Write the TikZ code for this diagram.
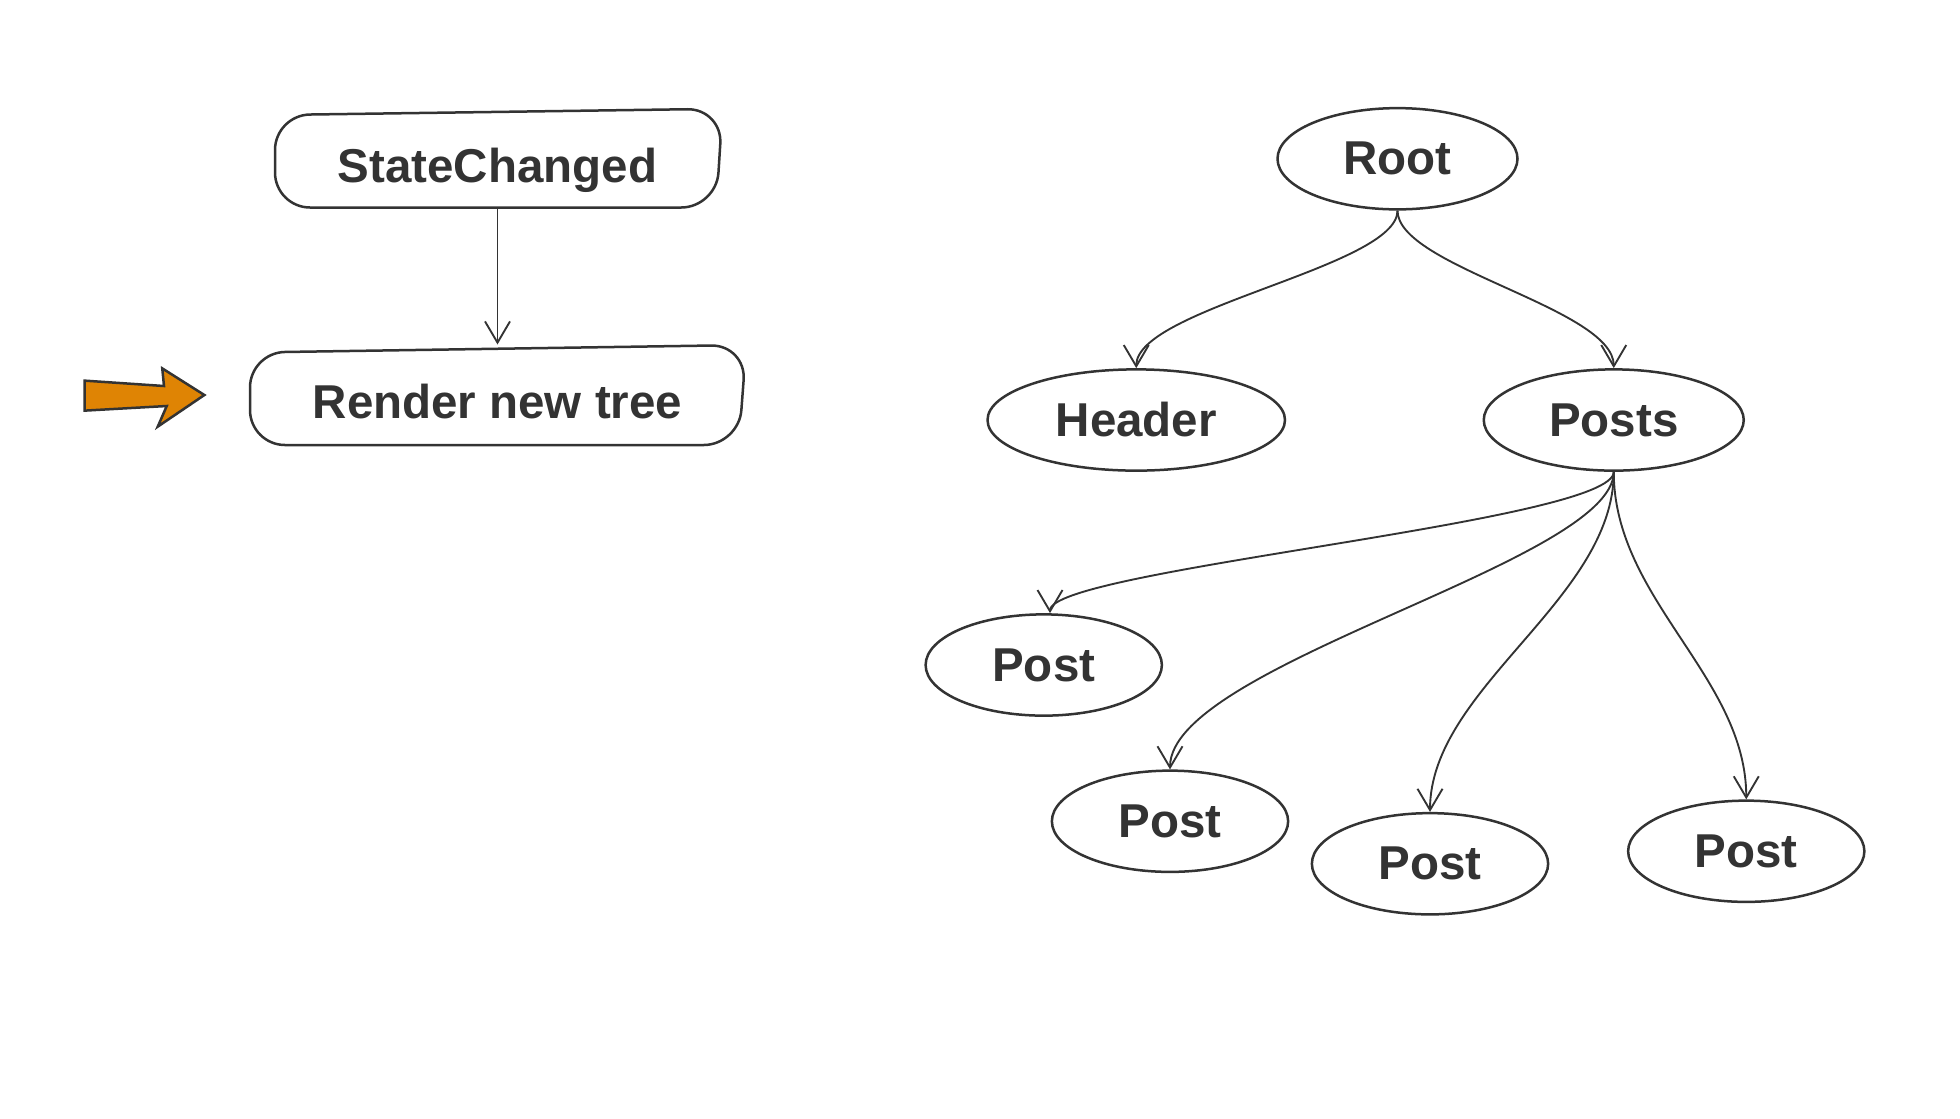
\documentclass[tikz,border=0pt]{standalone}
\usepackage{fontspec}
\setmainfont{Liberation Sans}
\usetikzlibrary{arrows.meta,shapes.geometric}
\definecolor{ink}{HTML}{333333}
\definecolor{orangefill}{HTML}{DF8404}
\begin{document}
\begin{tikzpicture}[x=0.5pt,y=-0.5pt,
  lbl/.style={font=\fontsize{19}{23}\selectfont\bfseries, text=ink},
  oval/.style={ellipse, draw=ink, line width=1pt, lbl, inner sep=0pt, minimum height=40.5pt},
  boxlbl/.style={lbl, inner sep=0pt, text height=19pt, text depth=0pt},
  outline/.style={draw=ink, line width=1pt, rounded corners=14pt},
  conn/.style={draw=ink, line width=0.75pt, -{Straight Barb[length=8.5pt,width=10pt]}}
]
\useasboundingbox (0,0) rectangle (1568,895);

% boxes
\draw[outline] (400,89.5) -- (578,87) -- (573,166) -- (220,166) -- (220,92) -- cycle;
\draw[outline] (398,279) -- (597,276) -- (591,356) -- (200,356) -- (200,282) -- cycle;
\node[boxlbl, minimum width=178pt, minimum height=39pt] (sc) at (398,127) {StateChanged};
\node[boxlbl, minimum width=198pt, minimum height=40pt] (rn) at (398,316) {Render new tree};

\draw[conn] (sc.south) -- (rn.north);

% orange pointer arrow
\draw[draw=ink, fill=orangefill, line width=1pt, line join=miter]
  (67.7,304.5) -- (131.2,308.8) -- (129.8,294.7) -- (163.5,316) -- (126.2,341.3)
  -- (133.4,324.8) -- (67.7,328.5) -- cycle;

% tree
\node[oval, minimum width=96pt] (root) at (1118,127) {Root};
\node[oval, minimum width=119pt] (header) at (909,336) {Header};
\node[oval, minimum width=104pt] (posts) at (1291,336) {Posts};
\node[oval, minimum width=94.5pt] (p1) at (835,532) {Post};
\node[oval, minimum width=94.5pt] (p2) at (936,657) {Post};
\node[oval, minimum width=94.5pt] (p3) at (1144,691) {Post};
\node[oval, minimum width=94.5pt] (p4) at (1397,681) {Post};

\draw[conn] (root.south) .. controls +(0,45) and +(0,-48) .. (header.north);
\draw[conn] (root.south) .. controls +(0,45) and +(0,-48) .. (posts.north);
\draw[conn] (posts.south) .. controls +(0,40) and +(0,-35) .. ([xshift=2.5pt]p1.north);
\draw[conn] (posts.south) .. controls +(0,72) and +(0,-84) .. (p2.north);
\draw[conn] (posts.south) .. controls +(0,102) and +(0,-99) .. (p3.north);
\draw[conn] (posts.south) .. controls +(0,102) and +(0,-98) .. (p4.north);
\end{tikzpicture}
\end{document}
